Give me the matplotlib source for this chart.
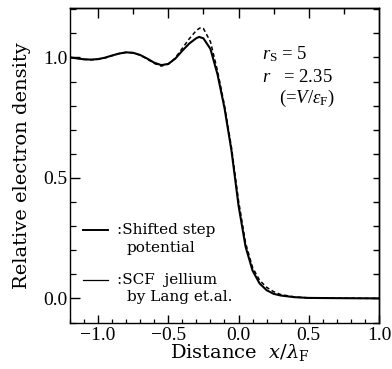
import matplotlib
matplotlib.use("Agg")
import matplotlib.pyplot as plt
from matplotlib.ticker import MultipleLocator, FixedLocator

# ---- data ----
x_step = [-1.2, -1.15, -1.1, -1.05, -1.0, -0.95, -0.9, -0.85, -0.8, -0.75, -0.7, -0.65,
          -0.6, -0.55, -0.5, -0.45, -0.4, -0.35, -0.3, -0.28, -0.25, -0.2, -0.15, -0.1,
          -0.05, 0.0, 0.05, 0.1, 0.15, 0.2, 0.25, 0.3, 0.4, 0.5, 0.7, 1.0]
y_step = [1.000, 0.996, 0.992, 0.991, 0.993, 0.999, 1.008, 1.016, 1.021, 1.019, 1.010, 0.995,
          0.978, 0.968, 0.973, 0.995, 1.028, 1.058, 1.080, 1.085, 1.079, 1.035, 0.930, 0.790,
          0.612, 0.385, 0.215, 0.115, 0.062, 0.034, 0.019, 0.012, 0.005, 0.002, 0.001, 0.000]

x_scf = [-1.2, -1.15, -1.1, -1.05, -1.0, -0.95, -0.9, -0.85, -0.8, -0.75, -0.7, -0.65,
         -0.6, -0.55, -0.5, -0.45, -0.4, -0.35, -0.3, -0.27, -0.25, -0.2, -0.15, -0.1,
         -0.05, 0.0, 0.05, 0.1, 0.15, 0.2, 0.25, 0.3, 0.4, 0.5, 0.7, 1.0]
y_scf = [1.000, 0.996, 0.992, 0.990, 0.992, 0.998, 1.007, 1.016, 1.021, 1.019, 1.009, 0.993,
         0.975, 0.964, 0.972, 0.998, 1.038, 1.078, 1.112, 1.124, 1.120, 1.065, 0.945, 0.800,
         0.625, 0.405, 0.230, 0.128, 0.075, 0.046, 0.028, 0.016, 0.006, 0.002, 0.001, 0.000]

x_major = [-1.0, -0.5, 0.0, 0.5, 1.0]
x_labels = ["\u22121.0", "\u22120.5", "0.0", "0.5", "1.0"]
y_major = [0.0, 0.5, 1.0]
y_labels = ["0.0", "0.5", "1.0"]

W, H = 392, 369
fig = plt.figure(figsize=(W / 100, H / 100), dpi=100)
fig.patch.set_facecolor("white")

def fx(px):
    return px / W

def fy(py):
    return 1 - py / H

ax = fig.add_axes([fx(70), fy(322.5), fx(379) - fx(70), fy(8) - fy(322.5)])
ax.set_xlim(-1.2, 1.0)
ax.set_ylim(-0.1, 1.205)

ax.plot(x_step, y_step, color="black", lw=1.5, solid_joinstyle="round")
ax.plot(x_scf, y_scf, color="black", lw=1.1, ls=(0, (2.6, 1.8)))

for s in ax.spines.values():
    s.set_linewidth(1.0)

tickfont = dict(family="Liberation Serif", size=14)
ax.xaxis.set_major_locator(FixedLocator(x_major))
ax.xaxis.set_minor_locator(MultipleLocator(0.1))
ax.set_xticklabels(x_labels, **tickfont)
ax.yaxis.set_major_locator(FixedLocator(y_major))
ax.yaxis.set_minor_locator(MultipleLocator(0.1))
ax.set_yticklabels(y_labels, **tickfont)
ax.tick_params(axis="x", which="major", direction="in", length=6, width=1.0, pad=3)
ax.tick_params(axis="x", which="minor", direction="in", length=3, width=0.9)
ax.tick_params(axis="y", which="major", direction="in", length=7, width=1.0, pad=2)
ax.tick_params(axis="y", which="minor", direction="in", length=4, width=0.9)

top = ax.secondary_xaxis("top")
top.xaxis.set_major_locator(FixedLocator([-1.0, -0.5, 0.0, 0.5]))
top.xaxis.set_minor_locator(FixedLocator([-0.75, -0.25, 0.25, 0.75]))
top.tick_params(which="major", direction="in", length=7, width=1.0, labeltop=False)
top.tick_params(which="minor", direction="in", length=4, width=1.0)
top.spines["top"].set_linewidth(1.0)

right = ax.secondary_yaxis("right")
right.yaxis.set_major_locator(MultipleLocator(0.1))
right.tick_params(which="major", direction="in", length=4, width=1.0, labelright=False)
right.spines["right"].set_linewidth(1.0)

serif_wide = "DejaVu Serif"

# axis labels
fig.text(fx(22), fy(166), "Relative electron density", rotation=90, ha="center",
         va="center", family=serif_wide, size=14)
fig.text(fx(240), fy(358), r"Distance  $x/\lambda_{\rm F}$", ha="center", va="baseline",
         family=serif_wide, size=14, math_fontfamily="dejavuserif")

# legend drawn as lines + text
fig.add_artist(plt.Line2D([fx(83), fx(108)], [fy(229.5), fy(229.5)], color="black", lw=1.4))
fig.add_artist(plt.Line2D([fx(83), fx(108)], [fy(279.5), fy(279.5)], color="black", lw=0.9))
legfont = dict(family=serif_wide, size=11, va="center", ha="left")
fig.text(fx(117), fy(230), ":Shifted step", **legfont)
fig.text(fx(127), fy(248), "potential", **legfont)
fig.text(fx(117), fy(280), ":SCF  jellium", **legfont)
fig.text(fx(127), fy(297.5), "by Lang et.al.", **legfont)

# annotations
plt.rcParams["mathtext.fontset"] = "custom"
plt.rcParams["mathtext.rm"] = "Liberation Serif"
plt.rcParams["mathtext.it"] = "Liberation Serif:italic"
annfont = dict(family="Liberation Serif", size=13.5, va="center", ha="left",
               math_fontfamily="custom")
fig.text(fx(262), fy(54), r"$r_{\rm S}$ = 5", **annfont)
fig.text(fx(262), fy(78), r"$r$   = 2.35", **annfont)
fig.text(fx(279), fy(98), r"(=$V$/$\varepsilon_{\rm F}$)", **annfont)

fig.savefig("out.png", dpi=100, facecolor="white")
